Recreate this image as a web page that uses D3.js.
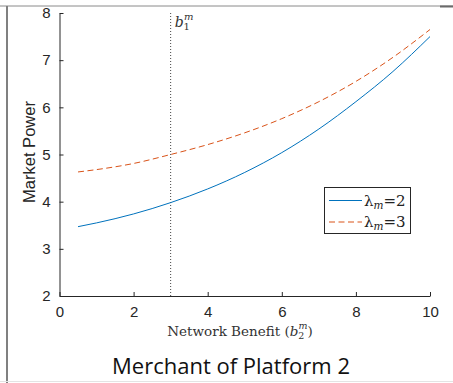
<!DOCTYPE html>
<html><head><meta charset="utf-8">
<script src="https://cdn.jsdelivr.net/npm/d3@7"></script>
<style>
html,body{margin:0;padding:0;background:#fff;}
svg{display:block;}
</style></head>
<body>
<svg id="chart" width="453" height="383"></svg>
<script>
const xValues = [0.5, 1, 2, 3, 4, 5, 6, 7, 8, 9, 10];
const lambda2 = [3.47, 3.55, 3.74, 3.98, 4.27, 4.62, 5.04, 5.54, 6.12, 6.76, 7.5];
const lambda3 = [4.63, 4.68, 4.81, 5.0, 5.21, 5.46, 5.76, 6.12, 6.55, 7.06, 7.65];
const xTicks = [0, 2, 4, 6, 8, 10];
const yTicks = [2, 3, 4, 5, 6, 7, 8];
const marker = 3;
const seriesNames = ["2", "3"];

const svg = d3.select("#chart");
const x = d3.scaleLinear().domain([0, 10]).range([59.5, 430]);
const y = d3.scaleLinear().domain([2, 8]).range([296, 13]);
const SERIF = "'DejaVu Serif', 'Liberation Serif', serif";
const SANS = "'Liberation Sans', Arial, sans-serif";

// frame decorations
svg.append("line").attr("x1", 0).attr("x2", 453).attr("y1", 6).attr("y2", 6)
  .attr("stroke", "#8a8a8a").attr("stroke-width", 1);
svg.append("line").attr("x1", 440).attr("x2", 453).attr("y1", 6.5).attr("y2", 6.5)
  .attr("stroke", "#6a6a6a").attr("stroke-width", 2);
svg.append("line").attr("x1", 7).attr("x2", 7).attr("y1", 6).attr("y2", 383)
  .attr("stroke", "#808080").attr("stroke-width", 2);
svg.append("line").attr("x1", 0).attr("x2", 453).attr("y1", 381.5).attr("y2", 381.5)
  .attr("stroke", "#e4e4e4").attr("stroke-width", 1);

// axes
const xAxis = d3.axisBottom(x).tickValues(xTicks).tickSizeInner(-4).tickSizeOuter(0).tickPadding(7).tickFormat(d3.format("d"));
const yAxis = d3.axisLeft(y).tickValues(yTicks).tickSizeInner(-4).tickSizeOuter(0).tickPadding(9).tickFormat(d3.format("d"));

const gx = svg.append("g").attr("transform", "translate(0,296)").call(xAxis);
const gy = svg.append("g").attr("transform", "translate(59.5,0)").call(yAxis);
[gx, gy].forEach(g => {
  g.select(".domain").attr("stroke", "#262626").attr("stroke-width", 1);
  g.selectAll(".tick line").attr("stroke", "#262626");
  g.selectAll(".tick text").attr("fill", "#262626")
    .style("font-family", SANS).style("font-size", "15px");
});
gx.selectAll(".tick text").attr("dy", "0.95em");

// vertical dotted line
svg.append("line").attr("x1", x(marker)).attr("x2", x(marker)).attr("y1", y(8)).attr("y2", y(2))
  .attr("stroke", "#444").attr("stroke-width", 1).attr("stroke-dasharray", "1,2");
const bl = svg.append("text").attr("x", x(marker) + 4).attr("y", 27)
  .style("font-family", SERIF).style("font-size", "14px").attr("fill", "#333");
bl.append("tspan").text("b").style("font-style", "italic");
bl.append("tspan").text("1").attr("dy", 3).style("font-size", "10px");
bl.append("tspan").text("m").attr("dy", -10).attr("dx", -6).style("font-size", "10px").style("font-style", "italic");

// lines
const line = (vals) => d3.line().x((d, i) => x(xValues[i])).y(d => y(d)).curve(d3.curveMonotoneX)(vals);
svg.append("path").attr("d", line(lambda2)).attr("fill", "none").attr("stroke", "#0072BD").attr("stroke-width", 1);
svg.append("path").attr("d", line(lambda3)).attr("fill", "none").attr("stroke", "#D95319").attr("stroke-width", 1)
  .attr("stroke-dasharray", "6,3.5");

// legend
const lg = svg.append("g");
lg.append("rect").attr("x", 324.5).attr("y", 187.5).attr("width", 86).attr("height", 46)
  .attr("fill", "#fff").attr("stroke", "#262626").attr("stroke-width", 1);
const colors = ["#0072BD", "#D95319"];
const dashes = [null, "6,3.5"];
seriesNames.forEach((s, i) => {
  const yy = 200.5 + i * 21.5;
  lg.append("line").attr("x1", 329).attr("x2", 362).attr("y1", yy).attr("y2", yy)
    .attr("stroke", colors[i]).attr("stroke-width", 1).attr("stroke-dasharray", dashes[i]);
  const t = lg.append("text").attr("x", 364).attr("y", yy + 5)
    .style("font-family", SERIF).style("font-size", "15px").attr("fill", "#222");
  t.append("tspan").text("λ");
  t.append("tspan").text("m").attr("dy", 3).style("font-size", "10.5px").style("font-style", "italic");
  t.append("tspan").text("=" + s).attr("dy", -3);
});

// axis labels
svg.append("text").attr("transform", "translate(35,152) rotate(-90)").attr("text-anchor", "middle")
  .style("font-family", SANS).style("font-size", "16.5px").attr("fill", "#262626")
  .text("Market Power");

const xl = svg.append("text").attr("x", 240).attr("y", 336).attr("text-anchor", "middle")
  .style("font-family", SERIF).style("font-size", "13.5px").attr("fill", "#333");
xl.append("tspan").text("Network Benefit (");
xl.append("tspan").text("b").style("font-style", "italic");
xl.append("tspan").text("2").attr("dy", 3).style("font-size", "9.5px");
xl.append("tspan").text("m").attr("dy", -10).attr("dx", -6).style("font-size", "9.5px").style("font-style", "italic");
xl.append("tspan").text(")").attr("dy", 7);

svg.append("text").attr("x", 231).attr("y", 374).attr("text-anchor", "middle")
  .style("font-family", "'Open Sans', 'DejaVu Sans', sans-serif").style("font-size", "22px").attr("fill", "#111")
  .text("Merchant of Platform 2");
</script>
</body></html>
